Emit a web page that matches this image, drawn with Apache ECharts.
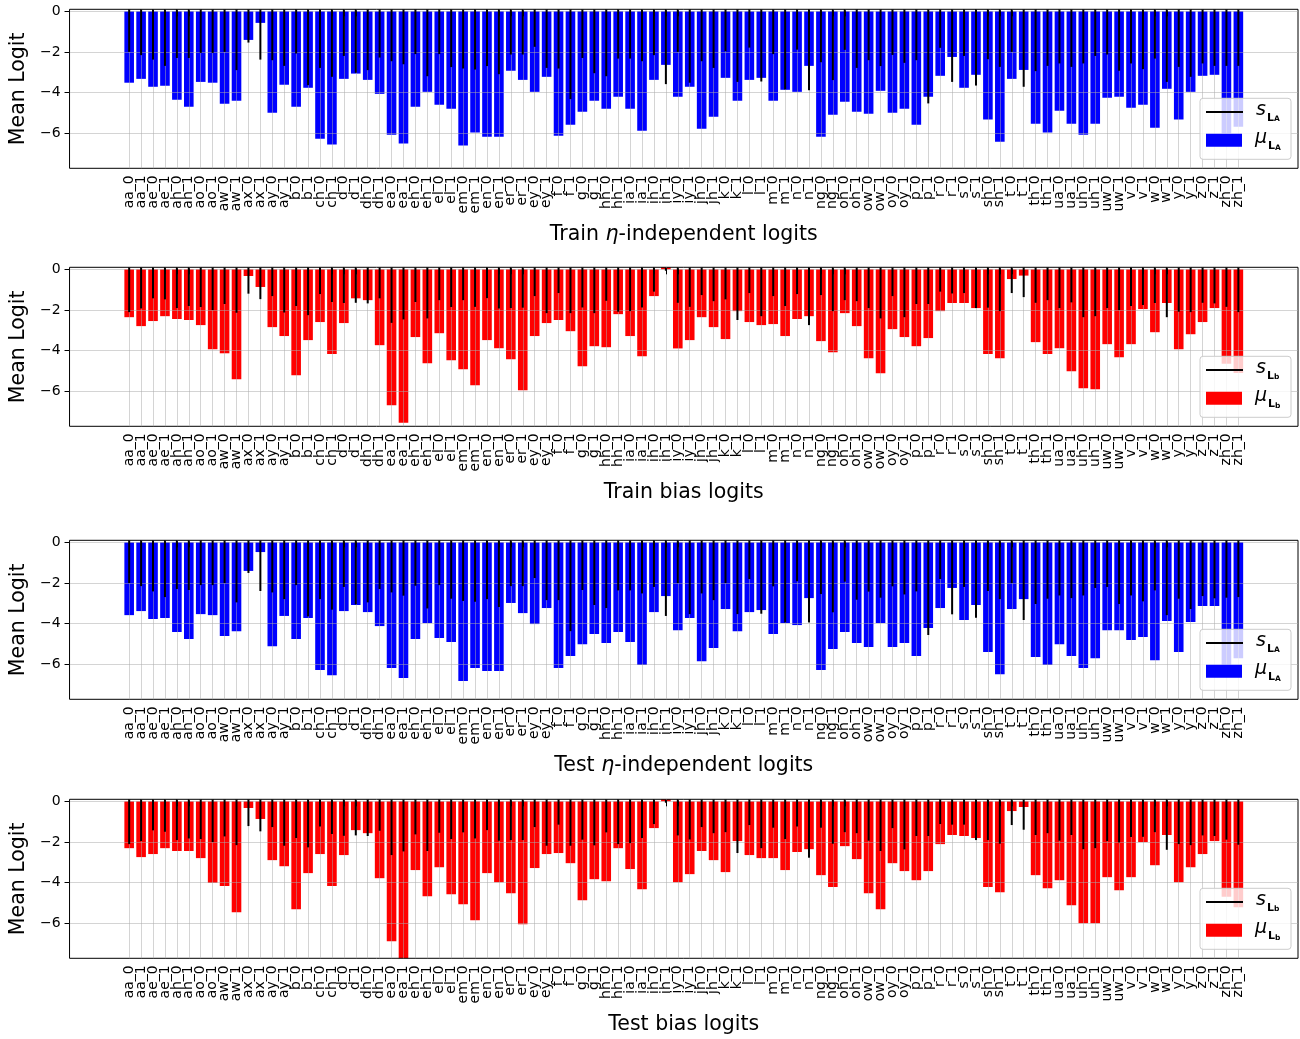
<!DOCTYPE html>
<html>
<head>
<meta charset="utf-8">
<script src="https://cdn.jsdelivr.net/npm/echarts@6/dist/echarts.min.js"></script>
<style>
  html, body { margin: 0; padding: 0; background: #fff; }
  #chart { width: 1300px; height: 1039px; }
</style>
</head>
<body>
<div id="chart"></div>
<script>
// Phone-state categories (phone + state index)
const categories = [
  'aa_0','aa_1','ae_0','ae_1','ah_0','ah_1','ao_0','ao_1','aw_0','aw_1',
  'ax_0','ax_1','ay_0','ay_1','b_0','b_1','ch_0','ch_1','d_0','d_1',
  'dh_0','dh_1','ea_0','ea_1','eh_0','eh_1','el_0','el_1','em_0','em_1',
  'en_0','en_1','er_0','er_1','ey_0','ey_1','f_0','f_1','g_0','g_1',
  'hh_0','hh_1','ia_0','ia_1','ih_0','ih_1',
  'iy_0','iy_1','jh_0','jh_1','k_0','k_1','l_0','l_1','m_0','m_1',
  'n_0','n_1','ng_0','ng_1','oh_0','oh_1','ow_0','ow_1','oy_0','oy_1',
  'p_0','p_1','r_0','r_1','s_0','s_1','sh_0','sh_1','t_0','t_1',
  'th_0','th_1','ua_0','ua_1','uh_0','uh_1','uw_0','uw_1','v_0','v_1',
  'w_0','w_1','y_0','y_1','z_0','z_1','zh_0','zh_1'
];

// Train, eta-independent logits: mean and std
const trainIndepMean = [
  -3.52,-3.33,-3.72,-3.67,-4.36,-4.70,-3.48,-3.52,-4.56,-4.41,
  -1.41,-0.57,-5.00,-3.62,-4.70,-3.77,-6.28,-6.57,-3.33,-3.07,
  -3.38,-4.07,-6.08,-6.52,-4.70,-3.97,-4.61,-4.80,-6.62,-5.97,
  -6.18,-6.18,-2.93,-3.38,-3.97,-3.23,-6.13,-5.59,-4.95,-4.41,
  -4.80,-4.21,-4.80,-5.89,-3.38,-2.64,
  -4.21,-3.72,-5.79,-5.20,-3.28,-4.41,-3.38,-3.28,-4.41,-3.87,
  -3.97,-2.69,-6.18,-5.10,-4.46,-4.95,-5.05,-3.92,-5.00,-4.80,
  -5.59,-4.21,-3.18,-2.25,-3.77,-3.13,-5.33,-6.43,-3.33,-2.89,
  -5.54,-5.97,-4.90,-5.54,-6.08,-5.54,-4.26,-4.21,-4.75,-4.61,
  -5.74,-3.82,-5.33,-3.97,-3.18,-3.13,-6.02,-5.69
];
const trainIndepStd = [
  2.00,2.16,2.38,2.69,2.30,2.30,2.05,2.05,2.00,2.90,
  1.54,2.38,2.41,2.69,2.08,3.64,2.79,3.23,2.20,3.03,
  2.90,2.28,2.46,2.61,2.11,3.20,2.11,2.75,2.82,2.87,
  2.70,3.10,2.13,2.13,1.75,2.79,2.82,4.33,2.30,3.05,
  3.20,2.33,2.33,2.46,2.16,3.59,
  2.00,3.52,2.46,2.79,1.97,3.48,1.79,3.46,2.11,3.85,
  1.89,3.89,2.51,3.39,1.90,2.79,2.41,2.70,2.15,2.54,
  2.41,4.54,1.80,3.48,2.20,3.66,2.36,2.74,2.00,3.72,
  2.95,2.69,2.57,2.74,2.57,2.20,2.13,2.93,2.57,2.85,
  2.33,3.48,2.74,3.23,2.57,2.69,2.69,2.69
];

// Train, bias logits: mean and std
const trainBiasMean = [
  -2.36,-2.80,-2.55,-2.31,-2.45,-2.50,-2.75,-3.94,-4.14,-5.42,
  -0.33,-0.87,-2.85,-3.29,-5.22,-3.49,-2.60,-4.18,-2.65,-1.43,
  -1.52,-3.74,-6.70,-7.56,-3.34,-4.63,-3.15,-4.48,-4.93,-5.72,
  -3.49,-3.89,-4.43,-5.96,-3.29,-2.65,-2.50,-3.05,-4.78,-3.79,
  -3.84,-2.21,-3.29,-4.28,-1.32,0.12,
  -3.90,-3.49,-2.36,-2.85,-3.44,-2.06,-2.60,-2.75,-2.70,-3.29,
  -2.45,-2.31,-3.54,-4.09,-2.16,-2.80,-4.38,-5.12,-2.95,-3.34,
  -3.79,-3.39,-2.06,-1.66,-1.66,-1.91,-4.18,-4.38,-0.48,-0.31,
  -3.59,-4.18,-3.89,-5.02,-5.86,-5.91,-3.69,-4.33,-3.69,-1.96,
  -3.10,-1.66,-3.94,-3.20,-2.60,-1.91,-4.66,-5.11
];
const trainBiasStd = [
  2.11,1.93,1.43,1.48,1.91,1.81,1.86,2.01,1.71,2.14,
  1.20,1.47,1.32,2.13,1.81,2.26,1.22,1.61,1.66,1.65,
  1.68,1.43,2.64,2.47,1.61,2.42,1.52,1.86,1.52,1.85,
  1.42,1.93,1.91,1.89,1.32,2.16,1.17,2.16,1.88,2.16,
  1.55,2.09,2.06,1.88,1.10,0.07,
  1.65,1.85,1.27,1.57,1.48,2.50,1.17,2.31,1.32,1.81,
  1.22,2.75,1.27,2.06,1.52,1.57,1.91,2.42,1.32,2.36,
  1.71,1.71,1.10,1.19,1.17,1.91,1.89,2.06,1.17,1.37,
  1.65,1.52,1.91,1.63,2.36,2.31,1.91,2.01,1.81,1.76,
  1.66,2.36,2.09,2.11,1.65,1.68,1.85,2.11
];

// Test, eta-independent logits: mean and std
const testIndepMean = [
  -3.59,-3.39,-3.78,-3.73,-4.42,-4.77,-3.54,-3.59,-4.62,-4.38,
  -1.41,-0.48,-5.12,-3.63,-4.77,-3.73,-6.30,-6.55,-3.39,-3.09,
  -3.44,-4.13,-6.20,-6.69,-4.77,-3.98,-4.72,-4.92,-6.84,-6.20,
  -6.35,-6.35,-2.99,-3.49,-4.03,-3.24,-6.20,-5.61,-5.02,-4.52,
  -4.97,-4.42,-4.92,-6.05,-3.44,-2.65,
  -4.33,-3.73,-5.86,-5.21,-3.29,-4.38,-3.44,-3.34,-4.52,-3.98,
  -4.08,-2.75,-6.30,-5.26,-4.42,-4.97,-5.16,-3.98,-5.16,-4.97,
  -5.61,-4.23,-3.24,-2.25,-3.83,-3.09,-5.41,-6.50,-3.29,-2.80,
  -5.66,-6.05,-5.02,-5.61,-6.20,-5.71,-4.33,-4.33,-4.82,-4.67,
  -5.81,-3.88,-5.41,-3.93,-3.14,-3.14,-6.10,-5.72
];
const testIndepStd = [
  2.01,2.16,2.42,2.70,2.30,2.35,2.11,2.11,2.01,2.96,
  1.51,2.40,2.47,2.80,2.11,3.65,2.80,3.32,2.20,3.06,
  2.96,2.30,2.47,2.63,2.14,3.26,2.11,2.78,2.89,2.93,
  2.80,3.19,2.16,2.16,1.76,2.85,2.85,4.38,2.35,3.09,
  3.24,2.37,2.37,2.52,2.20,3.63,
  2.01,3.54,2.52,2.85,2.01,3.54,1.81,3.52,2.17,3.95,
  1.92,3.95,2.55,3.45,1.94,2.83,2.43,2.73,2.17,2.57,
  2.42,4.57,1.81,3.55,2.20,3.72,2.40,2.80,2.01,3.83,
  3.04,2.78,2.62,2.75,2.62,2.25,2.20,3.04,2.62,2.91,
  2.37,3.59,2.78,3.29,2.65,2.76,2.73,2.70
];

// Test, bias logits: mean and std
const testBiasMean = [
  -2.31,-2.75,-2.60,-2.31,-2.45,-2.45,-2.80,-4.02,-4.18,-5.47,
  -0.33,-0.87,-2.90,-3.20,-5.32,-3.54,-2.60,-4.18,-2.65,-1.42,
  -1.57,-3.79,-6.90,-7.85,-3.39,-4.68,-3.25,-4.58,-5.07,-5.86,
  -3.54,-3.99,-4.53,-6.06,-3.29,-2.60,-2.55,-3.05,-4.88,-3.84,
  -3.94,-2.31,-3.34,-4.33,-1.32,0.12,
  -3.99,-3.59,-2.45,-2.90,-3.49,-1.96,-2.65,-2.80,-2.80,-3.39,
  -2.50,-2.36,-3.64,-4.23,-2.21,-2.85,-4.53,-5.32,-3.05,-3.44,
  -3.89,-3.44,-2.11,-1.66,-1.71,-1.81,-4.23,-4.48,-0.48,-0.28,
  -3.64,-4.28,-3.89,-5.12,-6.01,-6.01,-3.74,-4.38,-3.74,-2.01,
  -3.15,-1.66,-3.99,-3.25,-2.60,-1.96,-4.71,-5.22
];
const testBiasStd = [
  2.11,1.96,1.43,1.50,1.91,1.83,1.86,2.01,1.73,2.16,
  1.22,1.48,1.27,2.19,1.81,2.27,1.24,1.61,1.70,1.68,
  1.71,1.45,2.65,2.47,1.63,2.45,1.55,1.86,1.53,1.83,
  1.42,1.94,1.91,1.91,1.27,2.19,1.15,2.19,1.89,2.17,
  1.53,2.11,2.06,1.81,1.12,0.07,
  1.68,1.88,1.27,1.57,1.52,2.55,1.17,2.31,1.30,1.86,
  1.24,2.78,1.30,2.09,1.52,1.57,1.94,2.45,1.32,2.37,
  1.71,1.71,1.12,1.15,1.15,1.91,1.91,2.09,1.17,1.40,
  1.66,1.57,1.94,1.66,2.36,2.31,1.96,2.03,1.76,1.75,
  1.52,2.39,2.11,2.16,1.68,1.71,1.89,2.14
];

const yTickValues = [0, -2, -4, -6];

// ---- layout / styling ----
const FONT = 'DejaVu Sans';
const YMIN = -7.74, YMAX = 0.1;
const PAD_L = 5, PAD_R = 5;           // empty slots so the x range extends past the bars
const N = categories.length;
const GRID_LEFT = 66, GRID_W = 1232, GRID_H = 159;
const panelTops = [9.3, 267.3, 540.3, 799.3];
const GRID_COLOR = 'rgba(170,170,170,0.5)';
const LABEL_SIZE = 20.5;

const axisCats = [
  ...Array.from({length: PAD_L}, (_, k) => ' '.repeat(k + 1)),
  ...categories,
  ...Array.from({length: PAD_R}, (_, k) => ' '.repeat(PAD_L + k + 1))
];
const isReal = idx => idx >= PAD_L && idx < PAD_L + N;

const panels = [
  { title: ['Train ', 'η', '-independent logits'], mean: trainIndepMean, std: trainIndepStd, color: '#0000ff', sub: 'A', key: 'trainA' },
  { title: ['Train bias logits'],                  mean: trainBiasMean,  std: trainBiasStd,  color: '#ff0000', sub: 'b', key: 'trainB' },
  { title: ['Test ', 'η', '-independent logits'],  mean: testIndepMean,  std: testIndepStd,  color: '#0000ff', sub: 'A', key: 'testA' },
  { title: ['Test bias logits'],                   mean: testBiasMean,   std: testBiasStd,   color: '#ff0000', sub: 'b', key: 'testB' }
];

const legendRich = {
  m: { fontFamily: FONT, fontStyle: 'italic', fontSize: 19, color: '#000', verticalAlign: 'bottom', padding: [0, 0, 4, 8] },
  L: { fontFamily: FONT, fontWeight: 'bold', fontSize: 11, color: '#000', verticalAlign: 'bottom', padding: [0, 0, 0, 1] },
  S: { fontFamily: FONT, fontWeight: 'bold', fontSize: 7.5, color: '#000', verticalAlign: 'bottom', padding: [0, 0, 0, 0] }
};

const grid = [], xAxis = [], yAxis = [], series = [], legend = [], graphic = [];

panels.forEach((p, i) => {
  const top = panelTops[i];
  grid.push({
    left: GRID_LEFT, top: top, width: GRID_W, height: GRID_H,
    show: true, borderColor: '#000', borderWidth: 1, backgroundColor: 'transparent', z: 3
  });

  const nameText = p.title.length === 3
    ? '{t|' + p.title[0] + '}{e|' + p.title[1] + '}{t|' + p.title[2] + '}'
    : '{t|' + p.title[0] + '}';

  xAxis.push({
    type: 'category', gridIndex: i, data: axisCats, boundaryGap: false, z: 3,
    axisLine: { show: false },
    axisTick: { show: true, interval: isReal, length: 5, lineStyle: { color: '#000', width: 1 } },
    axisLabel: {
      interval: 0, rotate: 90, margin: 7, fontSize: 14, fontFamily: FONT, color: '#000',
      formatter: (v, idx) => isReal(idx) ? v : ''
    },
    splitLine: { show: true, interval: isReal, lineStyle: { color: GRID_COLOR, width: 1 } },
    name: nameText, nameLocation: 'middle', nameGap: 56,
    nameTextStyle: {
      fontSize: LABEL_SIZE, fontFamily: FONT, color: '#000',
      rich: {
        t: { fontSize: LABEL_SIZE, fontFamily: FONT, color: '#000' },
        e: { fontSize: LABEL_SIZE, fontFamily: FONT, fontStyle: 'italic', color: '#000' }
      }
    }
  });

  yAxis.push({
    type: 'value', gridIndex: i, min: YMIN, max: YMAX, z: 3,
    splitNumber: 4, minInterval: 2, maxInterval: 2,
    axisLine: { show: false },
    axisTick: { show: true, customValues: yTickValues, length: 5, lineStyle: { color: '#000', width: 1 } },
    axisLabel: {
      customValues: yTickValues, margin: 9, fontSize: 14, fontFamily: FONT, color: '#000',
      formatter: v => v === 0 ? '0' : (v < 0 ? '\u2212' + Math.abs(v) : String(v))
    },
    splitLine: { show: true, lineStyle: { color: GRID_COLOR, width: 1 } },
    name: 'Mean Logit', nameLocation: 'middle', nameGap: 39,
    nameTextStyle: { fontSize: LABEL_SIZE, fontFamily: FONT, color: '#000' }
  });

  const muName = p.key + ' mu';
  const sName = p.key + ' s';

  series.push({
    name: muName, type: 'bar', xAxisIndex: i, yAxisIndex: i, z: 2,
    barWidth: 9.6, itemStyle: { color: p.color },
    data: p.mean.map((v, k) => [k + PAD_L, v])
  });

  series.push({
    name: sName, type: 'custom', xAxisIndex: i, yAxisIndex: i, z: 4,
    itemStyle: { color: '#000' },
    data: p.std.map((v, k) => [k + PAD_L, v]),
    renderItem: (params, api) => {
      const x = api.value(0), s = api.value(1);
      const a = api.coord([x, -s]);
      const b = api.coord([x, Math.min(s, YMAX)]);
      return {
        type: 'line',
        shape: { x1: a[0], y1: a[1], x2: b[0], y2: b[1] },
        style: { stroke: '#000', lineWidth: 2 }
      };
    }
  });

  const fmt = name => {
    const sym = name.endsWith(' mu') ? 'μ' : 's';
    return '{m|' + sym + '}{L|L}{S|' + p.sub + '}';
  };

  graphic.push({
    type: 'rect', z: 5,
    shape: { x: 1200, y: top + 89, width: 91, height: 61, r: 3 },
    style: { fill: 'rgba(255,255,255,0.8)', stroke: '#cccccc', lineWidth: 1 }
  });

  legend.push({
    z: 6, left: 1206, top: top + 91.2, padding: 0, itemGap: 0,
    itemWidth: 37, itemHeight: 2, selectedMode: false,
    data: [{ name: sName, icon: 'rect', itemStyle: { color: '#000' } }],
    formatter: fmt, textStyle: { rich: legendRich }
  });
  legend.push({
    z: 6, left: 1206, top: top + 119.5, padding: 0, itemGap: 0,
    itemWidth: 36, itemHeight: 13, selectedMode: false,
    data: [{ name: muName, icon: 'rect', itemStyle: { color: p.color } }],
    formatter: fmt, textStyle: { rich: legendRich }
  });
});

const chart = echarts.init(document.getElementById('chart'), null, { renderer: 'canvas' });
chart.setOption({
  animation: false,
  backgroundColor: '#ffffff',
  textStyle: { fontFamily: FONT },
  grid, xAxis, yAxis, series, legend, graphic
});
</script>
</body>
</html>
